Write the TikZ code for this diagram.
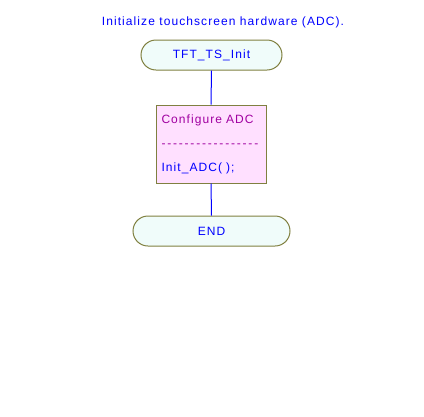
\documentclass[tikz,border=0pt]{standalone}
\usepackage{fontspec}
\setmainfont{Liberation Sans}[LetterSpace=9]
\usetikzlibrary{shapes.misc,positioning}
\definecolor{flowblue}{RGB}{0,0,255}
\definecolor{flowolive}{RGB}{128,128,64}
\definecolor{termfill}{RGB}{240,252,250}
\definecolor{boxfill}{RGB}{255,224,255}
\definecolor{flowmag}{RGB}{160,0,160}
\tikzset{terminal/.style={rounded rectangle, draw=flowolive, fill=termfill, text=flowblue, minimum height=30pt, inner sep=0pt, line width=1pt}}
\tikzset{action/.style={rectangle, draw=flowolive, fill=boxfill, text=flowblue, minimum width=110pt, minimum height=78pt, text width=99pt, align=left, inner sep=0pt, line width=1pt}}
\tikzset{flowline/.style={color=flowblue, line width=1pt}}

\begin{document}
\begin{tikzpicture}[x=1pt,y=-1pt,font=\fontsize{12}{24}\selectfont]
\useasboundingbox (0,0) rectangle (424,416);
\node[text=flowblue] (title) at (223,22) {Initialize touchscreen hardware (ADC).};
\node[terminal, minimum width=141pt] (init) at (211.5,55) {TFT\_TS\_Init};
\node[action] (adc) at (211,144) {\textcolor{flowmag}{Configure ADC}\\
  \textcolor{flowmag}{\foreach \i in {1,...,17}{\makebox[5.8pt][l]{-}}}\\
  Init\_ADC( );};
\node[terminal, minimum width=157pt] (done) at (211.5,231) {END};
\draw[flowline] (init.south) -- (adc.north);
\draw[flowline] (adc.south) -- (done.north);
\end{tikzpicture}
\end{document}
